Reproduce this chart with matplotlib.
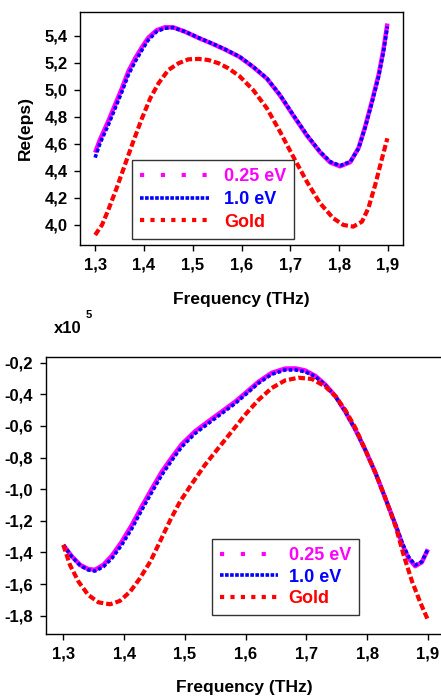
import matplotlib
matplotlib.use("Agg")
import matplotlib.pyplot as plt
from matplotlib.lines import Line2D

plt.rcParams['font.family'] = ['Liberation Sans', 'DejaVu Sans']
plt.rcParams['font.weight'] = 'bold'

# --- real part of permittivity ---
f_re = [1.300, 1.310, 1.327, 1.341, 1.355, 1.368, 1.382, 1.396, 1.409, 1.426,
        1.443, 1.460, 1.484, 1.512, 1.539, 1.566, 1.596, 1.624, 1.652, 1.679,
        1.706, 1.734, 1.761, 1.782, 1.802, 1.823, 1.840, 1.853, 1.867, 1.881,
        1.891, 1.899]
re_10 = [4.498, 4.604, 4.740, 4.863, 4.986, 5.110, 5.208, 5.294, 5.368, 5.430,
         5.455, 5.459, 5.430, 5.385, 5.344, 5.300, 5.245, 5.170, 5.085, 4.962,
         4.814, 4.666, 4.542, 4.468, 4.439, 4.468, 4.567, 4.715, 4.900, 5.097,
         5.282, 5.467]
re_025 = [4.535, 4.632, 4.768, 4.890, 5.012, 5.135, 5.232, 5.315, 5.385, 5.440,
          5.462, 5.462, 5.430, 5.383, 5.342, 5.298, 5.243, 5.168, 5.082, 4.958,
          4.810, 4.662, 4.538, 4.462, 4.434, 4.465, 4.570, 4.722, 4.910, 5.110,
          5.298, 5.490]
f_re_au = [1.300, 1.314, 1.327, 1.344, 1.361, 1.378, 1.396, 1.413, 1.430, 1.450,
           1.471, 1.491, 1.512, 1.532, 1.553, 1.573, 1.596, 1.624, 1.652, 1.679,
           1.706, 1.734, 1.761, 1.788, 1.809, 1.829, 1.847, 1.860, 1.874, 1.888,
           1.899]
re_au = [3.926, 4.000, 4.111, 4.272, 4.444, 4.616, 4.789, 4.937, 5.048, 5.146,
         5.196, 5.225, 5.228, 5.220, 5.196, 5.159, 5.100, 4.998, 4.863, 4.690,
         4.505, 4.320, 4.161, 4.050, 4.000, 3.988, 4.025, 4.124, 4.296, 4.493,
         4.641]

# --- imaginary part (x1e5) ---
f_im = [1.300, 1.314, 1.328, 1.341, 1.352, 1.366, 1.380, 1.396, 1.413, 1.429,
        1.446, 1.462, 1.479, 1.495, 1.517, 1.539, 1.561, 1.583, 1.599, 1.621,
        1.643, 1.665, 1.682, 1.698, 1.715, 1.731, 1.748, 1.764, 1.781, 1.797,
        1.814, 1.830, 1.847, 1.858, 1.868, 1.879, 1.890, 1.900]
im_10 = [-1.353, -1.427, -1.484, -1.511, -1.518, -1.490, -1.437, -1.353, -1.247,
         -1.132, -1.016, -0.910, -0.815, -0.731, -0.647, -0.583, -0.520, -0.457,
         -0.404, -0.330, -0.273, -0.246, -0.246, -0.257, -0.289, -0.341, -0.415,
         -0.510, -0.626, -0.752, -0.900, -1.058, -1.227, -1.342, -1.427, -1.480,
         -1.459, -1.378]
im_025 = [-1.353, -1.425, -1.480, -1.505, -1.510, -1.478, -1.420, -1.333, -1.225,
          -1.110, -0.995, -0.890, -0.797, -0.715, -0.633, -0.570, -0.508, -0.446,
          -0.394, -0.321, -0.264, -0.237, -0.236, -0.249, -0.284, -0.338, -0.413,
          -0.509, -0.626, -0.752, -0.900, -1.058, -1.230, -1.350, -1.437, -1.487,
          -1.462, -1.380]
f_im_au = [1.300, 1.311, 1.325, 1.341, 1.358, 1.377, 1.393, 1.410, 1.426, 1.443,
           1.459, 1.476, 1.492, 1.512, 1.533, 1.555, 1.577, 1.599, 1.621, 1.643,
           1.665, 1.687, 1.709, 1.731, 1.748, 1.764, 1.781, 1.797, 1.814, 1.830,
           1.847, 1.860, 1.874, 1.888, 1.900]
im_au = [-1.353, -1.480, -1.585, -1.669, -1.716, -1.728, -1.707, -1.648, -1.564,
         -1.459, -1.332, -1.195, -1.079, -0.963, -0.847, -0.741, -0.636, -0.530,
         -0.436, -0.360, -0.312, -0.295, -0.303, -0.350, -0.413, -0.499, -0.615,
         -0.752, -0.900, -1.058, -1.237, -1.416, -1.585, -1.722, -1.827]

x_ticks = [1.3, 1.4, 1.5, 1.6, 1.7, 1.8, 1.9]
x_labels = ['1,3', '1,4', '1,5', '1,6', '1,7', '1,8', '1,9']
re_ticks = [4.0, 4.2, 4.4, 4.6, 4.8, 5.0, 5.2, 5.4]
re_labels = ['4,0', '4,2', '4,4', '4,6', '4,8', '5,0', '5,2', '5,4']
im_ticks = [-1.8, -1.6, -1.4, -1.2, -1.0, -0.8, -0.6, -0.4, -0.2]
im_labels = ['-1,8', '-1,6', '-1,4', '-1,2', '-1,0', '-0,8', '-0,6', '-0,4', '-0,2']
series_names = ['0.25 eV', '1.0 eV', 'Gold']

MAG = '#ff00ff'
BLUE = '#0000ff'
RED = '#ff0000'
W, H = 441, 696


def px_box(left, top, right, bottom):
    return [left / W, 1 - bottom / H, (right - left) / W, (bottom - top) / H]


def style_axes(ax):
    for s in ax.spines.values():
        s.set_linewidth(1.0)
    ax.tick_params(direction='out', length=4, width=1, labelsize=12, pad=5)
    ax.set_xticks(x_ticks)
    ax.set_xticklabels(x_labels, fontweight='bold')


def draw(ax, f, y25, y10, fau, yau):
    ax.plot(f, y25, color=MAG, lw=3.2, solid_capstyle='butt')
    ax.plot(f, y10, color=BLUE, lw=2.6, dashes=(1.0, 0.6))
    ax.plot(fau, yau, color=RED, lw=3.0, dashes=(1.6, 0.7))


def legend(ax, anchor, hlen, hpad, spacing):
    handles = [Line2D([], [], color=MAG, lw=3, dashes=(1, 4)),
               Line2D([], [], color=BLUE, lw=2.6, dashes=(1.0, 0.4)),
               Line2D([], [], color=RED, lw=3, dashes=(1.0, 1.5))]
    leg = ax.legend(handles, series_names, loc='upper left',
                    bbox_to_anchor=anchor, borderaxespad=0, fancybox=False,
                    framealpha=1, edgecolor='#333333', fontsize=13,
                    handlelength=hlen, handletextpad=hpad,
                    labelspacing=spacing, borderpad=0.45)
    leg.get_frame().set_linewidth(1.0)
    for t, c in zip(leg.get_texts(), [MAG, BLUE, RED]):
        t.set_color(c)
        t.set_fontweight('bold')


fig = plt.figure(figsize=(W / 100, H / 100), dpi=100)

ax1 = fig.add_axes(px_box(80, 12, 403, 245))
draw(ax1, f_re, re_025, re_10, f_re_au, re_au)
style_axes(ax1)
ax1.set_yticks(re_ticks)
ax1.set_yticklabels(re_labels, fontweight='bold')
ax1.set_xlim(1.269, 1.931)
ax1.set_ylim(3.852, 5.575)
ax1.set_ylabel('Re(eps)', fontsize=12.5, fontweight='bold', labelpad=8)
ax1.set_xlabel('Frequency (THz)', fontsize=12.5, fontweight='bold', labelpad=14)
legend(ax1, ((132 - 80) / 323, (245 - 160) / 233), 3.8, 0.85, 0.32)

ax2 = fig.add_axes(px_box(45.7, 356.7, 442.5, 634))
draw(ax2, f_im, im_025, im_10, f_im_au, im_au)
style_axes(ax2)
ax2.set_yticks(im_ticks)
ax2.set_yticklabels(im_labels, fontweight='bold')
ax2.set_xlim(1.271, 1.924)
ax2.set_ylim(-1.916, -0.162)
ax2.set_xlabel('Frequency (THz)', fontsize=12.5, fontweight='bold', labelpad=13)
legend(ax2, ((212 - 45.7) / 396.8, (634 - 539) / 277.3), 3.2, 0.6, 0.25)

fig.text(54 / W, 1 - 333 / H, 'x10', fontsize=12, fontweight='bold')
fig.text(86 / W, 1 - 318 / H, '5', fontsize=8, fontweight='bold')

fig.savefig('out.png', dpi=100)
